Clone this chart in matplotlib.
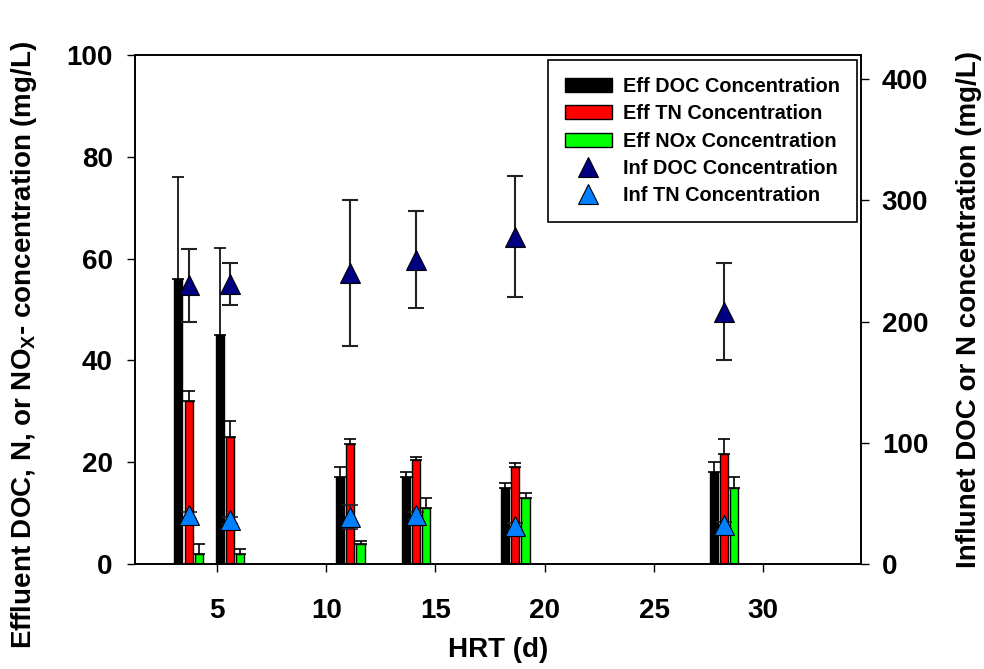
import matplotlib
matplotlib.use('Agg')
import matplotlib.pyplot as plt
import numpy as np

plt.rcParams['font.family'] = ['Liberation Sans', 'DejaVu Sans']
plt.rcParams['font.weight'] = 'bold'
plt.rcParams['mathtext.fontset'] = 'custom'
plt.rcParams['mathtext.bf'] = 'Liberation Sans:bold'
plt.rcParams['mathtext.default'] = 'bf'

# data
hrt = [3.7, 5.6, 11.1, 14.1, 18.65, 28.2]
eff_doc = [56, 45, 17, 17, 15, 18]
eff_doc_err = [20, 17, 2, 1, 1, 2]
eff_tn = [32, 25, 23.5, 20.4, 19.1, 21.6]
eff_tn_err = [2, 3.1, 1.1, 0.7, 0.8, 3]
eff_nox = [2, 2, 4, 11, 13, 15]
eff_nox_err = [2, 1, 0.6, 2, 1, 2]
inf_doc = [230, 231, 240, 251, 270, 208]
inf_doc_err = [30, 17, 60, 40, 50, 40]
inf_tn = [40, 36, 39, 40, 31, 32]
inf_tn_err = [3, 3, 10, 3, 3, 3]

x = np.array(hrt)
w = 0.37
off = 0.47

fig = plt.figure(figsize=(9.84, 6.69), dpi=100)
ax = fig.add_axes([0.1372, 0.157, 0.7378, 0.7608])
ax2 = ax.twinx()

ekw = dict(fmt='none', ecolor='black', elinewidth=1.2, capsize=4.4, capthick=1.2)
b1 = ax.bar(x - off, eff_doc, w, color='black', edgecolor='black', linewidth=1,
            label='Eff DOC Concentration')
ax.errorbar(x - off, eff_doc, yerr=[np.zeros(6), eff_doc_err], **ekw)
b2 = ax.bar(x, eff_tn, w, color='#ff0000', edgecolor='black', linewidth=1,
            label='Eff TN Concentration')
ax.errorbar(x, eff_tn, yerr=[np.zeros(6), eff_tn_err], **ekw)
b3 = ax.bar(x + off, eff_nox, w, color='#00ff00', edgecolor='black', linewidth=1,
            label='Eff NOx Concentration')
ax.errorbar(x + off, eff_nox, yerr=[np.zeros(6), eff_nox_err], **ekw)

ax2.errorbar(x, inf_doc, yerr=inf_doc_err, fmt='none', ecolor='#222222',
             elinewidth=1.5, capsize=5.5, capthick=1.5)
ax2.errorbar(x, inf_tn, yerr=inf_tn_err, fmt='none', ecolor='#222222',
             elinewidth=1.2, capsize=5.5, capthick=1.2)
l1, = ax2.plot(x, inf_doc, '^', color='#000080', markeredgecolor='black',
               markeredgewidth=0.8, markersize=14, label='Inf DOC Concentration')
l2, = ax2.plot(x, inf_tn, '^', color='#0080ff', markeredgecolor='black',
               markeredgewidth=0.8, markersize=14, label='Inf TN Concentration')

ax.set_xlim(1.25, 34.47)
ax.set_ylim(0, 100)
ax2.set_ylim(0, 420)
ax.set_xticks([5, 10, 15, 20, 25, 30])
ax.set_yticks([0, 20, 40, 60, 80, 100])
ax2.set_yticks([0, 100, 200, 300, 400])

for a in (ax, ax2):
    a.tick_params(direction='out', length=5.5, width=1, labelsize=20)
    for s in a.spines.values():
        s.set_linewidth(1.2)
ax.tick_params(axis='x', pad=19)
ax.tick_params(axis='y', pad=10.5)
ax2.tick_params(axis='y', pad=9.5)

ax.set_xlabel('HRT (d)', fontsize=20, fontweight='bold')
ax.xaxis.set_label_coords(0.5, -0.143)
ax.set_ylabel(r'Effluent DOC, N, or NO$_\mathbf{X}$- concentration (mg/L)',
              fontsize=20, fontweight='bold')
ax.yaxis.set_label_coords(-0.132, 0.43)
ax2.set_ylabel('Influnet DOC or N concentration (mg/L)', fontsize=20,
               fontweight='bold', rotation=90)
ax2.yaxis.set_label_coords(1.131, 0.5)

leg = ax2.legend(handles=[b1, b2, b3, l1, l2], loc='upper right',
                 bbox_to_anchor=(0.995, 0.99), borderaxespad=0,
                 prop={'size': 14.3, 'weight': 'bold'}, fancybox=False,
                 framealpha=1, edgecolor='black', borderpad=0.85,
                 labelspacing=0.42, handlelength=2.35, handleheight=0.72,
                 handletextpad=0.6)
leg.get_frame().set_linewidth(1.2)

plt.savefig('out.png', dpi=100)
